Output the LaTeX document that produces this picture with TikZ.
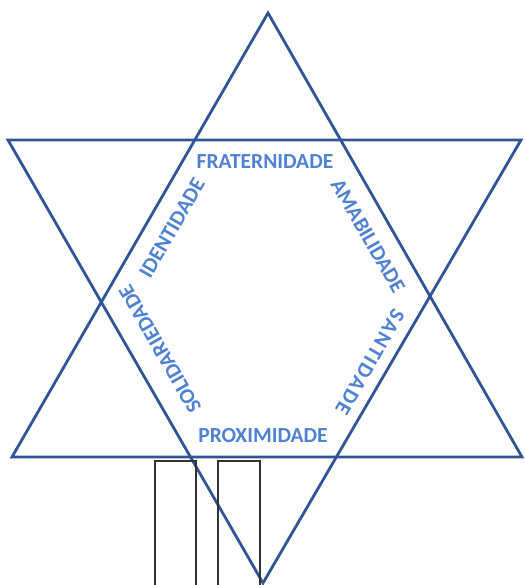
\documentclass[tikz,border=0pt]{standalone}
\usepackage{fontspec}
\setmainfont{Carlito}
\usepackage{xcolor}
\definecolor{starcol}{RGB}{47,85,151}
\definecolor{wordcol}{RGB}{79,129,210}

\begin{document}
\begin{tikzpicture}[
    x=1pt, y=-1pt,
    edge/.style={draw=starcol, line width=2.8pt, line join=miter},
    word/.style={text=wordcol, font=\fontsize{21.5}{21.5}\selectfont\bfseries, inner sep=0pt},
    post/.style={draw=black!80, line width=1.2pt},
]
\useasboundingbox (0,0) rectangle (524,585);
% star corners
\coordinate (uptop) at (268,13);
\coordinate (upleft) at (12,457);
\coordinate (upright) at (522,457);
\coordinate (dnleft) at (8,140);
\coordinate (dnright) at (521,140);
\coordinate (dnbot) at (263,583);
\draw[edge] (uptop) -- (upright) -- (upleft) -- cycle;
\draw[edge] (dnleft) -- (dnright) -- (dnbot) -- cycle;
% posts under the star
\draw[post] (155,600) -- (155,461) -- (196,461) -- (196,600);
\draw[post] (218,600) -- (218,461) -- (260,461) -- (260,600);
% words round the hexagon
\node[word] (frat) at (265,162) {FRATERNIDADE};
\node[word] (prox) at (263,436) {PROXIMIDADE};
\node[word, rotate=60] (iden) at (172,228) {IDENTIDADE};
\node[word, rotate=120] (soli) at (160,349) {SOLIDARIEDADE};
\node[word, rotate=-60] (amab) at (368,236) {AMABILIDADE};
\node[word, rotate=-120] (sant) at (370,362) {\addfontfeature{LetterSpace=8}SANTIDADE};
\end{tikzpicture}
\end{document}
